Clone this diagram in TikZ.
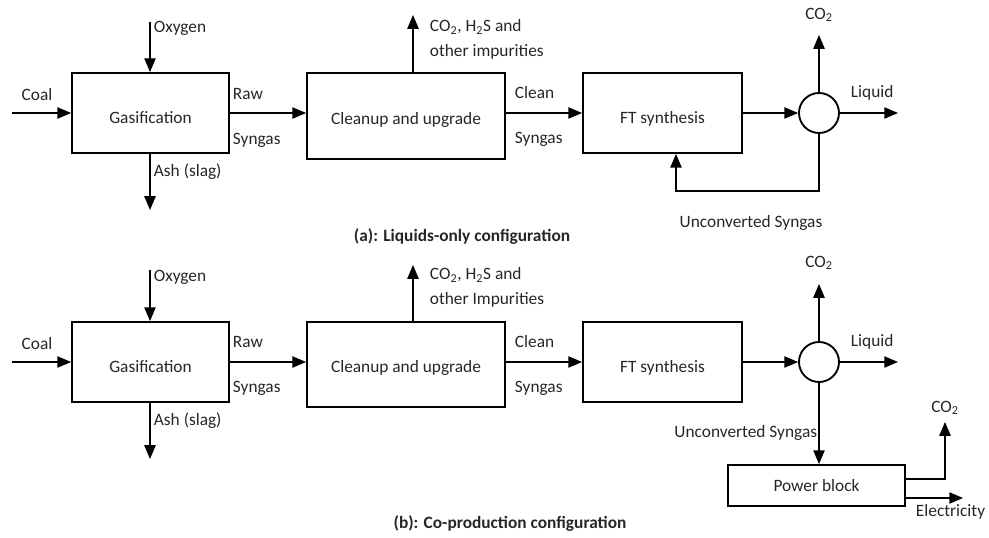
\documentclass[tikz,border=0pt]{standalone}
\usepackage{fontspec}
\setmainfont{Carlito}
\usetikzlibrary{arrows}

\begin{document}
\begin{tikzpicture}[x = 0.75pt, y = -0.75pt, font = \fontsize{13pt}{15pt}\selectfont, line width = 1.4pt]
	\tikzstyle{boxStyle} = [shape = rectangle, draw, inner sep = 0pt, text = black!85]
	\tikzstyle{lowBoxStyle} = [boxStyle, text height = 15.5pt, text depth = 0pt]
	\tikzstyle{sepStyle} = [shape = circle, draw, minimum size = 30pt, inner sep = 0pt]
	\tikzstyle{labelStyle} = [inner sep = 0pt, text = black!85]
	\tikzstyle{captionStyle} = [inner sep = 0pt, text = black!85, font = \fontsize{13pt}{15pt}\selectfont\bfseries]
	\tikzstyle{flowStyle} = [-triangle 45]
	\useasboundingbox (0, 0) rectangle (989, 538);

	% (a) liquids only
	\node[lowBoxStyle, minimum width = 117.75pt, minimum height = 60pt] (gasA) at (150.5, 113) {Gasification};
	\node[lowBoxStyle, text height = 12.2pt, minimum width = 148.5pt, minimum height = 64.5pt] (cleanA) at (406, 116) {Cleanup and upgrade};
	\node[lowBoxStyle, minimum width = 119.25pt, minimum height = 60pt] (ftA) at (662.5, 113) {FT synthesis};
	\node[sepStyle] (sepA) at (819, 113) {};
	\coordinate (coalA) at (12, 113);
	\coordinate (oxyA) at (150, 22);
	\coordinate (ashA) at (150, 210);
	\coordinate (impA) at (413, 15);
	\coordinate (co2A) at (819, 35);
	\coordinate (liqA) at (898, 113);
	\coordinate (loopA) at (819, 191);
	\coordinate (backA) at (676, 191);
	\draw[flowStyle] (coalA) -- (gasA);
	\draw[flowStyle] (oxyA) -- (oxyA |- gasA.north);
	\draw[flowStyle] (oxyA |- gasA.south) -- (ashA);
	\draw[flowStyle] (gasA.east) -- (cleanA.west |- gasA.east);
	\draw[flowStyle] (impA |- cleanA.north) -- (impA);
	\draw[flowStyle] (cleanA.east |- ftA.west) -- (ftA.west);
	\draw[flowStyle] (ftA) -- (sepA);
	\draw[flowStyle] (sepA) -- (co2A);
	\draw[flowStyle] (sepA) -- (liqA);
	\draw[flowStyle] (sepA.south) -- (loopA) -- (backA) -- (backA |- ftA.south);
	\node[labelStyle] at (37, 95) {Coal};
	\node[labelStyle, anchor = west] at (153, 28) {Oxygen};
	\node[labelStyle, anchor = west] at (153, 172) {Ash (slag)};
	\node[labelStyle, anchor = west] at (232, 94) {Raw};
	\node[labelStyle, anchor = west] at (232, 140) {Syngas};
	\node[labelStyle, anchor = west] at (429, 27) {CO\textsubscript{2}, H\textsubscript{2}S and};
	\node[labelStyle, anchor = west] at (429, 52) {other impurities};
	\node[labelStyle, anchor = west] at (514, 93) {Clean};
	\node[labelStyle, anchor = west] at (514, 139) {Syngas};
	\node[labelStyle] at (819, 15) {CO\textsubscript{2}};
	\node[labelStyle, anchor = west] at (850, 93) {Liquid};
	\node[labelStyle] at (751, 223) {Unconverted Syngas};
	\node[captionStyle] (capA) at (462, 237) {(a): Liquids-only configuration};

	% (b) co-production
	\node[lowBoxStyle, minimum width = 117.75pt, minimum height = 60pt] (gasB) at (150.5, 362) {Gasification};
	\node[lowBoxStyle, text height = 12.2pt, minimum width = 148.5pt, minimum height = 63.75pt] (cleanB) at (406, 364.5) {Cleanup and upgrade};
	\node[lowBoxStyle, minimum width = 119.25pt, minimum height = 60pt] (ftB) at (662.5, 362) {FT synthesis};
	\node[sepStyle] (sepB) at (819, 362) {};
	\node[boxStyle, minimum width = 132.75pt, minimum height = 30.75pt] (power) at (816.5, 485.5) {Power block};
	\coordinate (coalB) at (12, 362);
	\coordinate (oxyB) at (150, 270);
	\coordinate (ashB) at (150, 459);
	\coordinate (impB) at (413, 265);
	\coordinate (co2B) at (819, 284);
	\coordinate (liqB) at (898, 362);
	\coordinate (turnP) at (945, 479);
	\coordinate (co2P) at (945, 422);
	\coordinate (elecP) at (963, 498);
	\draw[flowStyle] (coalB) -- (gasB);
	\draw[flowStyle] (oxyB) -- (oxyB |- gasB.north);
	\draw[flowStyle] (oxyB |- gasB.south) -- (ashB);
	\draw[flowStyle] (gasB.east) -- (cleanB.west |- gasB.east);
	\draw[flowStyle] (impB |- cleanB.north) -- (impB);
	\draw[flowStyle] (cleanB.east |- ftB.west) -- (ftB.west);
	\draw[flowStyle] (ftB) -- (sepB);
	\draw[flowStyle] (sepB) -- (co2B);
	\draw[flowStyle] (sepB) -- (liqB);
	\draw[flowStyle] (sepB) -- (sepB |- power.north);
	\draw[flowStyle] (power.east |- turnP) -- (turnP) -- (co2P);
	\draw[flowStyle] (power.east |- elecP) -- (elecP);
	\node[labelStyle] at (37, 344) {Coal};
	\node[labelStyle, anchor = west] at (153, 277) {Oxygen};
	\node[labelStyle, anchor = west] at (153, 421) {Ash (slag)};
	\node[labelStyle, anchor = west] at (232, 342) {Raw};
	\node[labelStyle, anchor = west] at (232, 388) {Syngas};
	\node[labelStyle, anchor = west] at (429, 275) {CO\textsubscript{2}, H\textsubscript{2}S and};
	\node[labelStyle, anchor = west] at (429, 300) {other Impurities};
	\node[labelStyle, anchor = west] at (514, 342) {Clean};
	\node[labelStyle, anchor = west] at (514, 388) {Syngas};
	\node[labelStyle] at (819, 263) {CO\textsubscript{2}};
	\node[labelStyle, anchor = west] at (850, 342) {Liquid};
	\node[labelStyle, anchor = east] at (818, 433) {Unconverted Syngas};
	\node[labelStyle] at (945, 408) {CO\textsubscript{2}};
	\node[labelStyle, anchor = west] at (915, 512) {Electricity};
	\node[captionStyle] (capB) at (510, 524) {(b): Co-production configuration};
\end{tikzpicture}
\end{document}
